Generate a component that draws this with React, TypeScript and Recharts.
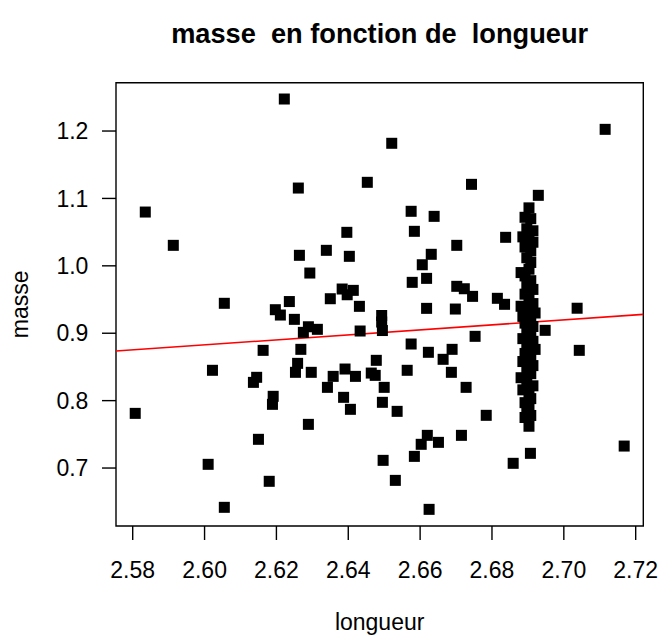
import React from "react";
import {
  ScatterChart,
  Scatter,
  XAxis,
  YAxis,
  ReferenceArea,
  ReferenceLine,
  Customized,
} from "recharts";

// longueur (x) and masse (y) values
const longueurSpread = [
  2.6222, 2.6261, 2.5835, 2.5913, 2.6264, 2.6293, 2.6055, 2.6236, 2.6197, 2.6211,
  2.625, 2.6289, 2.6275, 2.6314, 2.6163, 2.6268, 2.6022, 2.6145, 2.6136, 2.6259,
  2.6253, 2.6191, 2.6189, 2.5807, 2.6289, 2.615, 2.601, 2.618, 2.6055, 2.6521,
  2.6453, 2.6743, 2.6575, 2.6639, 2.6396, 2.6584, 2.6702, 2.6339, 2.6403, 2.6631,
  2.6606, 2.6578, 2.6618, 2.6383, 2.6414, 2.6397, 2.6702, 2.6723, 2.6746, 2.635,
  2.6431, 2.6493, 2.6493, 2.6495, 2.6618, 2.6698, 2.6433, 2.6575, 2.6623, 2.6689,
  2.6753, 2.6664, 2.6478, 2.6297, 2.6358, 2.6391, 2.642, 2.6464, 2.6475, 2.6564,
  2.6687, 2.6342, 2.65, 2.6728, 2.6387, 2.6406, 2.6495, 2.6536, 2.6784, 2.662,
  2.6603, 2.6651, 2.6715, 2.6584, 2.6497, 2.6531, 2.6625, 2.7115, 2.6929, 2.6838,
  2.6815, 2.6835, 2.7037, 2.6948, 2.7043, 2.7168, 2.6907, 2.6859,
];
const masseSpread = [
  1.2475, 1.1154, 1.0798, 1.0304, 1.0156, 0.9893, 0.9444, 0.947, 0.9349, 0.927,
  0.9206, 0.9096, 0.9013, 0.9058, 0.8746, 0.8761, 0.845, 0.8346, 0.8271, 0.8553,
  0.842, 0.8064, 0.7945, 0.7811, 0.7648, 0.7426, 0.7055, 0.6803, 0.6417, 1.1818,
  1.1239, 1.1209, 1.0809, 1.0734, 1.0497, 1.0512, 1.0304, 1.023, 1.0141, 1.0171,
  1.0016, 0.9755, 0.9814, 0.9656, 0.9636, 0.9571, 0.9696, 0.966, 0.9547, 0.9512,
  0.9399, 0.9263, 0.9166, 0.904, 0.9369, 0.9359, 0.9033, 0.884, 0.8717, 0.8761,
  0.8954, 0.8613, 0.8598, 0.842, 0.836, 0.8469, 0.836, 0.8409, 0.8375, 0.845,
  0.842, 0.8197, 0.8197, 0.8197, 0.8049, 0.7871, 0.7975, 0.7841, 0.7782, 0.7485,
  0.7352, 0.7381, 0.7485, 0.7173, 0.7114, 0.6817, 0.6387, 1.2025, 1.1046, 1.0423,
  0.9518, 0.9429, 0.9371, 0.9043, 0.8746, 0.7326, 0.7218, 0.707,
];
const longueurCluster = [
  2.6903, 2.6892, 2.6908, 2.6897, 2.6914, 2.6886, 2.6903, 2.6914, 2.6892, 2.6908,
  2.6897, 2.6908, 2.6903, 2.6881, 2.6892, 2.6908, 2.6897, 2.6914, 2.6892, 2.6903,
  2.6914, 2.6881, 2.6897, 2.692, 2.6886, 2.6908, 2.6892, 2.6914, 2.6897, 2.6908,
  2.6886, 2.6914, 2.6897, 2.692, 2.6892, 2.6908, 2.6886, 2.6914, 2.6897, 2.6908,
  2.6881, 2.6897, 2.6914, 2.6886, 2.6903, 2.6908, 2.6892, 2.6903, 2.6897, 2.6908,
  2.6892, 2.6903,
];
const masseCluster = [
  1.086, 1.072, 1.07, 1.055, 1.052, 1.043, 1.04, 1.035, 1.028, 1.022,
  1.012, 1.005, 0.995, 0.99, 0.985, 0.978, 0.97, 0.965, 0.958, 0.95,
  0.944, 0.94, 0.935, 0.93, 0.925, 0.92, 0.915, 0.91, 0.905, 0.898,
  0.892, 0.888, 0.882, 0.876, 0.87, 0.865, 0.858, 0.852, 0.846, 0.84,
  0.834, 0.828, 0.822, 0.816, 0.81, 0.803, 0.797, 0.79, 0.783, 0.778,
  0.775, 0.762,
];

const xTicks = [2.58, 2.6, 2.62, 2.64, 2.66, 2.68, 2.7, 2.72];
const yTicks = [0.7, 0.8, 0.9, 1.0, 1.1, 1.2];

const xDomain = [2.57535, 2.72212];
const yDomain = [0.614, 1.2717];

// regression line masse = intercept + slope * longueur
const intercept = -0.0811;
const slope = 0.3707;

const title = "masse  en fonction de  longueur";
const xLabel = "longueur";
const yLabel = "masse";

const longueur = [...longueurSpread, ...longueurCluster];
const masse = [...masseSpread, ...masseCluster];
const points = longueur.map((x, i) => ({ x, y: masse[i] }));

const FONT = "'Liberation Sans', Arial, Helvetica, sans-serif";
const W = 660;
const H = 637;
const M = { top: 82.7, right: 16.7, bottom: 0, left: 0 };
const Y_AXIS_W = 116;
const X_AXIS_H = 111;

const Square = (props: any) => {
  const { cx, cy } = props;
  if (cx == null || cy == null) return null;
  return <rect x={cx - 5.5} y={cy - 5.5} width={11} height={11} fill="#000" />;
};

const Texts = () => (
  <g fontFamily={FONT} fill="#000">
    <text
      x={(116 + 643.3) / 2}
      y={43}
      textAnchor="middle"
      fontSize={27.2}
      fontWeight="bold"
      style={{ whiteSpace: "pre" }}
    >
      {title}
    </text>
    <text x={(116 + 643.3) / 2} y={630} textAnchor="middle" fontSize={23}>
      {xLabel}
    </text>
    <text
      x={28}
      y={304.3}
      textAnchor="middle"
      fontSize={23}
      transform={`rotate(-90 28 304.3)`}
    >
      {yLabel}
    </text>
  </g>
);

export default function App() {
  return (
    <div style={{ position: "absolute", left: 0, top: 0, width: W, height: H, background: "#fff" }}>
      <ScatterChart width={W} height={H} margin={M}>
        <XAxis
          type="number"
          dataKey="x"
          domain={xDomain}
          ticks={xTicks}
          allowDataOverflow
          axisLine={false}
          tickSize={14}
          tickMargin={22}
          height={X_AXIS_H}
          tickLine={{ stroke: "#000", strokeWidth: 1.4 }}
          tick={{ fill: "#000", fontSize: 23, fontFamily: FONT }}
          tickFormatter={(v: number) => v.toFixed(2)}
        />
        <YAxis
          type="number"
          dataKey="y"
          domain={yDomain}
          ticks={yTicks}
          allowDataOverflow
          axisLine={false}
          tickSize={14}
          tickMargin={13.6}
          width={Y_AXIS_W}
          tickLine={{ stroke: "#000", strokeWidth: 1.4 }}
          tick={{ fill: "#000", fontSize: 23, fontFamily: FONT }}
          tickFormatter={(v: number) => v.toFixed(1)}
        />
        <ReferenceArea
          x1={xDomain[0]}
          x2={xDomain[1]}
          y1={yDomain[0]}
          y2={yDomain[1]}
          fill="none"
          stroke="#000"
          strokeWidth={1.4}
          fillOpacity={0}
        />
        <Scatter data={points} shape={Square} isAnimationActive={false} />
        <ReferenceLine
          segment={[
            { x: xDomain[0], y: intercept + slope * xDomain[0] },
            { x: xDomain[1], y: intercept + slope * xDomain[1] },
          ]}
          stroke="#ff0000"
          strokeWidth={1.6}
          ifOverflow="visible"
        />
        <Customized component={Texts} />
      </ScatterChart>
    </div>
  );
}
